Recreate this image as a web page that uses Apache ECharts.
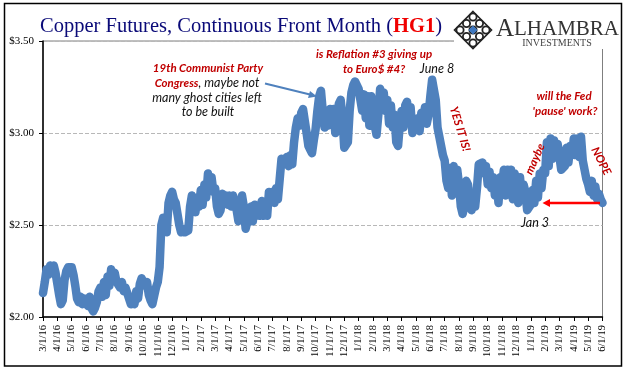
<!DOCTYPE html>
<html>
<head>
<meta charset="utf-8">
<style>
  html, body { margin: 0; padding: 0; background: #fff; }
  #chart { width: 641px; height: 381px; }
</style>
<script src="https://cdn.jsdelivr.net/npm/echarts@6/dist/echarts.min.js"></script>
</head>
<body>
<div id="chart"></div>
<script>
// month labels on the x axis
var monthTicks = ['3/1/16','4/1/16','5/1/16','6/1/16','7/1/16','8/1/16','9/1/16','10/1/16','11/1/16','12/1/16',
  '1/1/17','2/1/17','3/1/17','4/1/17','5/1/17','6/1/17','7/1/17','8/1/17','9/1/17','10/1/17','11/1/17','12/1/17',
  '1/1/18','2/1/18','3/1/18','4/1/18','5/1/18','6/1/18','7/1/18','8/1/18','9/1/18','10/1/18','11/1/18','12/1/18',
  '1/1/19','2/1/19','3/1/19','4/1/19','5/1/19','6/1/19'];
var pointsPerMonth = 8;
// price, eight readings a month, one row per month
var prices = [
  2.13,2.19,2.26,2.23,2.28,2.25,2.28,2.24,
  2.18,2.12,2.07,2.09,2.20,2.25,2.27,2.27,
  2.27,2.23,2.17,2.10,2.08,2.11,2.07,2.10,
  2.10,2.06,2.11,2.05,2.03,2.05,2.08,2.14,
  2.16,2.11,2.19,2.12,2.22,2.17,2.26,2.22,
  2.24,2.19,2.20,2.16,2.19,2.14,2.16,2.13,
  2.10,2.07,2.10,2.07,2.14,2.10,2.18,2.21,
  2.21,2.17,2.19,2.12,2.09,2.07,2.08,2.16,
  2.19,2.27,2.50,2.54,2.52,2.46,2.62,2.66,
  2.68,2.64,2.62,2.56,2.50,2.46,2.48,2.46,
  2.47,2.47,2.60,2.66,2.67,2.57,2.65,2.60,
  2.69,2.61,2.72,2.65,2.78,2.70,2.76,2.68,
  2.70,2.60,2.56,2.58,2.67,2.63,2.66,2.61,
  2.66,2.60,2.66,2.62,2.58,2.52,2.56,2.66,
  2.60,2.48,2.47,2.56,2.60,2.52,2.61,2.55,
  2.59,2.55,2.63,2.55,2.60,2.55,2.68,2.63,
  2.68,2.62,2.70,2.64,2.75,2.86,2.84,2.84,
  2.87,2.82,2.88,2.83,2.95,3.03,3.08,3.04,
  3.11,3.13,3.12,3.00,2.93,2.91,2.89,2.96,
  3.02,3.12,3.20,3.23,3.12,3.03,3.12,3.04,
  3.13,3.05,3.13,3.00,3.08,3.16,3.18,3.08,
  2.92,2.91,2.95,3.12,3.22,3.26,3.28,3.26,
  3.24,3.18,3.12,3.21,3.08,3.20,3.04,3.20,
  3.19,3.04,2.99,3.10,3.24,3.20,3.22,3.12,
  3.18,3.05,3.15,3.03,3.10,2.95,2.93,3.05,
  3.12,3.03,3.15,3.17,3.08,3.14,3.00,3.05,
  3.03,3.08,3.01,3.11,3.07,3.14,3.05,3.10,
  3.20,3.29,3.28,3.18,3.03,2.98,2.93,2.88,
  2.85,2.74,2.70,2.81,2.66,2.82,2.72,2.80,
  2.72,2.60,2.56,2.60,2.74,2.72,2.61,2.58,
  2.64,2.60,2.70,2.83,2.82,2.84,2.78,2.82,
  2.72,2.79,2.70,2.76,2.66,2.73,2.62,2.76,
  2.72,2.80,2.66,2.80,2.70,2.80,2.64,2.78,
  2.74,2.62,2.76,2.64,2.72,2.68,2.58,2.57,
  2.61,2.69,2.62,2.74,2.65,2.78,2.70,2.80,
  2.78,2.95,2.82,2.97,2.86,2.96,2.87,2.94,
  2.87,2.80,2.79,2.82,2.92,2.84,2.93,2.88,
  2.97,2.88,2.97,2.87,2.98,2.85,2.80,2.75,
  2.72,2.68,2.74,2.66,2.71,2.64,2.67,2.64,
  2.62
];
var yTicks = [2, 2.5, 3, 3.5];

var categories = [];
monthTicks.forEach(function (m, i) {
  categories.push(m);
  if (i < monthTicks.length - 1) {
    for (var k = 1; k < pointsPerMonth; k++) categories.push(m + '+' + k);
  }
});

var red = '#c00000';
var ink = '#111';
var redFont = 'italic 700 11.5px Lato, sans-serif';
var inkFont = 'italic 400 12.5px Lato, sans-serif';

// one annotation text
function note(x, y, text, color, rot) {
  return {
    type: 'text', x: x, y: y, rotation: (rot || 0) * Math.PI / 180, z: 20,
    style: {
      text: text, fill: color, font: color === red ? redFont : inkFont, align: 'center', verticalAlign: 'middle',
      rich: {
        r: { fill: red, font: redFont },
        k: { fill: ink, font: inkFont }
      }
    }
  };
}

// lattice of the logo
function logo(cx, cy) {
  var els = [];
  var s = 9;
  for (var i = -1; i <= 1; i++) {
    for (var j = -1; j <= 1; j++) {
      var px = cx + (i - j) * s * 0.72;
      var py = cy + (i + j) * s * 0.72;
      els.push({ type: 'circle', z: 21, shape: { cx: px, cy: py, r: 3.6 }, style: { fill: '#fff', stroke: '#222', lineWidth: 1.8 } });
    }
  }
  els.push({ type: 'polygon', z: 20, shape: { points: [[cx, cy - 18.5], [cx + 18.5, cy], [cx, cy + 18.5], [cx - 18.5, cy]] },
    style: { fill: '#fff', stroke: '#222', lineWidth: 1.6 } });
  els.push({ type: 'polygon', z: 22, shape: { points: [[cx, cy - 4.5], [cx + 4.5, cy], [cx, cy + 4.5], [cx - 4.5, cy]] },
    style: { fill: '#3f78c0' } });
  return els;
}

var chart = echarts.init(document.getElementById('chart'));
chart.setOption({
  backgroundColor: '#fff',
  animation: false,
  title: {
    left: 35, top: 11,
    text: '{a|Copper Futures, Continuous Front Month (}{b|HG1}{a|)}',
    textStyle: {
      fontWeight: 'normal',
      rich: {
        a: { color: '#0a0a78', fontFamily: '"Liberation Serif", serif', fontSize: 20.5, fontWeight: 'normal' },
        b: { color: '#f00000', fontFamily: '"Liberation Serif", serif', fontSize: 20.5, fontWeight: 'bold' }
      }
    }
  },
  grid: { left: 43, right: 38.5, top: 41, bottom: 64, show: true, borderColor: '#7f7f7f', borderWidth: 1, backgroundColor: 'transparent' },
  xAxis: {
    type: 'category',
    boundaryGap: false,
    data: categories,
    axisLine: { lineStyle: { color: '#000', width: 1.5 } },
    axisTick: { length: 4, interval: pointsPerMonth - 1, lineStyle: { color: '#000', width: 1 } },
    splitLine: { show: false },
    axisLabel: {
      interval: pointsPerMonth - 1, rotate: 90, margin: 8, color: '#000',
      fontFamily: '"Liberation Serif", serif', fontSize: 10.5
    }
  },
  yAxis: {
    type: 'value',
    min: yTicks[0], max: yTicks[yTicks.length - 1], interval: 0.5,
    axisLine: { show: true, lineStyle: { color: '#000', width: 1.5 } },
    axisTick: { show: true, length: 4, lineStyle: { color: '#000', width: 1 } },
    splitLine: { show: true, lineStyle: { color: '#b8b8b8', type: 'dashed', width: 1 } },
    axisLabel: {
      margin: 9, color: '#000', fontFamily: '"Liberation Serif", serif', fontSize: 11,
      formatter: function (v) { return '$' + v.toFixed(2); }
    }
  },
  series: [{
    type: 'line',
    data: prices,
    symbol: 'none',
    lineStyle: { color: '#4f81bd', width: 8.5, cap: 'round', join: 'round' }
  }],
  graphic: [
    // white box behind the logo, also hides the frame under it
    { type: 'rect', z: 10, shape: { x: 454, y: 6, width: 166, height: 43 }, style: { fill: '#fff' } },
    // outer frame
    { type: 'rect', z: 30, shape: { x: 4.5, y: 3.5, width: 617, height: 362.5 }, style: { fill: 'none', stroke: '#000', lineWidth: 1.5 } },
    { type: 'text', x: 496, y: 29, z: 20, style: { text: 'A', fill: '#333', font: '25px "Liberation Serif", serif', align: 'left', verticalAlign: 'middle' } },
    { type: 'text', x: 514, y: 29.5, z: 20, style: { text: 'LHAMBRA', fill: '#333', font: '21px "Liberation Serif", serif', align: 'left', verticalAlign: 'middle' } },
    { type: 'text', x: 557, y: 43, z: 20, style: { text: 'INVESTMENTS', fill: '#444', font: '10px "Liberation Serif", serif', align: 'center', verticalAlign: 'middle' } },

    note(208, 68, '19th Communist Party', red),
    note(207, 83, '{r|Congress}{k|, maybe not}', ink),
    note(207, 98, 'many ghost cities left', ink),
    note(208, 112, 'to be built', ink),
    note(374, 54, 'is Reflation #3 giving up', red),
    note(374, 69, 'to Euro$ #4?', red),
    note(437, 69, 'June 8', ink),
    note(564, 96, 'will the Fed', red),
    note(565, 111, "'pause' work?", red),
    note(460, 129, 'YES IT IS!', red, -73),
    note(535, 159, 'maybe', red, 66),
    note(601, 161, 'NOPE', red, -63),
    note(535, 223, 'Jan 3', ink),

    // blue arrow to the party congress peak
    { type: 'line', z: 15, shape: { x1: 265, y1: 83.5, x2: 312, y2: 95 }, style: { stroke: '#4f81bd', lineWidth: 2 } },
    { type: 'polygon', z: 15, shape: { points: [[317, 96.5], [308, 98], [310, 91]] }, style: { fill: '#4f81bd' } },
    // red arrow from the last close back to Jan 3
    { type: 'line', z: 15, shape: { x1: 600, y1: 203, x2: 548, y2: 203 }, style: { stroke: '#ff0000', lineWidth: 2.5 } },
    { type: 'polygon', z: 15, shape: { points: [[542.5, 203], [550, 199], [550, 207]] }, style: { fill: '#ff0000' } }
  ].concat(logo(473, 30))
});
window.addEventListener('resize', function () {
  chart.resize();
});
</script>
</body>
</html>
